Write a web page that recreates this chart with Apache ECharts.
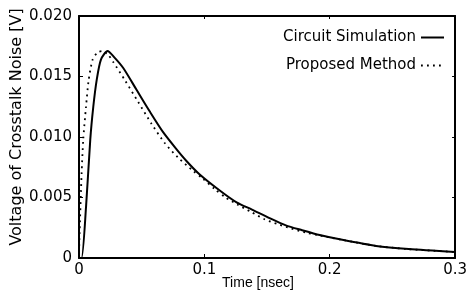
<!DOCTYPE html>
<html>
<head>
<meta charset="utf-8">
<script src="https://cdn.jsdelivr.net/npm/echarts@6/dist/echarts.min.js"></script>
<style>html,body{margin:0;padding:0;background:#fff}#c{width:470px;height:294px}</style>
</head>
<body>
<div id="c"></div>
<script>
var simTime = [0, 0.002, 0.0056, 0.009, 0.0114, 0.0141, 0.0175, 0.0228, 0.028, 0.0353, 0.0459, 0.0565, 0.0671, 0.0777, 0.0859, 0.0963, 0.112, 0.1257, 0.138, 0.152, 0.165, 0.178, 0.192, 0.210, 0.237, 0.263, 0.3];
var simVolt = [0, 0, 0.0042, 0.0098, 0.0125, 0.0147, 0.0164, 0.0171, 0.0166, 0.0157, 0.0139, 0.0121, 0.0104, 0.0090, 0.0080, 0.0069, 0.0056, 0.0046, 0.0040, 0.0033, 0.0027, 0.0023, 0.0019, 0.0015, 0.0010, 0.00074, 0.0005];
var propTime = [0, 0.0003, 0.0021, 0.0034, 0.0056, 0.0077, 0.0109, 0.0149, 0.0188, 0.0233, 0.0273, 0.0366, 0.0472, 0.0578, 0.0684, 0.079, 0.091, 0.0989, 0.1082, 0.117, 0.1267, 0.1374, 0.148, 0.1585, 0.169, 0.181, 0.190, 0.21, 0.237, 0.263, 0.3];
var propVolt = [0, 0.0015, 0.0070, 0.0098, 0.0125, 0.0147, 0.0164, 0.0170, 0.0171, 0.0168, 0.0162, 0.0147, 0.0129, 0.0111, 0.0095, 0.0083, 0.0072, 0.00655, 0.0057, 0.0050, 0.0044, 0.0038, 0.0032, 0.0028, 0.00245, 0.0021, 0.0019, 0.0015, 0.0010, 0.00073, 0.0005];
var seriesNames = ['Circuit Simulation', 'Proposed Method'];
var xTitle = 'Time [nsec]';
var yTitle = 'Voltage of Crosstalk Noise [V]';

function pairs(a, b) { return a.map(function (v, i) { return [v, b[i]]; }); }
var F = 'DejaVu Sans';
var chart = echarts.init(document.getElementById('c'), null, { renderer: 'canvas' });
var axisLine = { show: true, onZero: false, lineStyle: { color: '#000', width: 2 } };
chart.setOption({
  animation: false,
  backgroundColor: '#fff',
  grid: { left: 79, right: 14, top: 16, bottom: 36, containLabel: false },
  legend: {
    data: seriesNames,
    orient: 'vertical',
    align: 'right',
    right: 25,
    top: 30,
    padding: 0,
    itemWidth: 23,
    itemHeight: 14,
    itemGap: 13,
    itemStyle: { color: 'rgba(0,0,0,0)', borderWidth: 0 },
    textStyle: { fontFamily: F, fontSize: 15, color: '#000' }
  },
  xAxis: [{
    type: 'value', min: 0, max: 0.3, interval: 0.1,
    axisLine: axisLine,
    axisTick: { show: true, inside: true, length: 4, lineStyle: { color: '#000', width: 1 } },
    axisLabel: { fontFamily: F, fontSize: 15, color: '#000', margin: 5,
      formatter: function (v) { return v === 0 ? '0' : v.toFixed(1); } },
    splitLine: { show: false }
  }, {
    type: 'value', min: 0, max: 0.3, interval: 0.1, position: 'top',
    axisLine: axisLine,
    axisTick: { show: true, inside: true, length: 3, lineStyle: { color: '#000', width: 1 } },
    axisLabel: { show: false }, splitLine: { show: false }
  }],
  yAxis: [{
    type: 'value', min: 0, max: 0.02, interval: 0.005,
    axisLine: axisLine,
    axisTick: { show: true, inside: true, length: 4, lineStyle: { color: '#000', width: 1 } },
    axisLabel: { fontFamily: F, fontSize: 15, color: '#000', margin: 7,
      formatter: function (v) { return v === 0 ? '0' : v.toFixed(3); } },
    splitLine: { show: false }
  }, {
    type: 'value', min: 0, max: 0.02, interval: 0.005, position: 'right',
    axisLine: axisLine,
    axisTick: { show: true, inside: true, length: 3, lineStyle: { color: '#000', width: 1 } },
    axisLabel: { show: false }, splitLine: { show: false }
  }],
  series: [{
    name: seriesNames[0], type: 'line', showSymbol: false, symbol: 'none', smooth: 0.25,
    data: pairs(simTime, simVolt),
    lineStyle: { color: '#000', width: 2 }, itemStyle: { color: '#000' }
  }, {
    name: seriesNames[1], type: 'line', showSymbol: false, symbol: 'none', smooth: 0.25,
    data: pairs(propTime, propVolt),
    lineStyle: { color: '#000', width: 1.8, type: [1.8, 4.2], cap: 'butt' }, itemStyle: { color: '#000' }
  }],
  graphic: [{
    type: 'text', x: 258, y: 283,
    style: { text: xTitle, fontFamily: 'Liberation Sans', fontSize: 14, fill: '#000', textAlign: 'center', textVerticalAlign: 'middle' }
  }, {
    type: 'text', x: 17, y: 127, rotation: Math.PI / 2,
    style: { text: yTitle, fontFamily: F, fontSize: 16, fill: '#000', textAlign: 'center', textVerticalAlign: 'middle' }
  }]
});
</script>
</body>
</html>
